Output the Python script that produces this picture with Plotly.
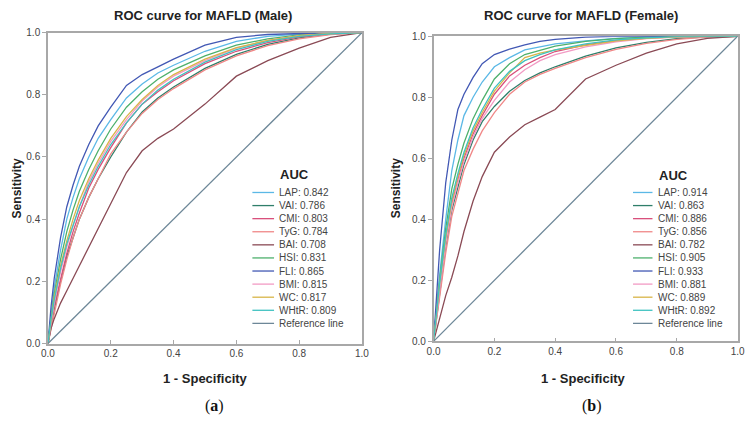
import plotly.graph_objects as go

# ---------------- data ----------------
fpr = [0, 0.01, 0.02, 0.04, 0.06, 0.08, 0.10, 0.13, 0.16, 0.20, 0.25, 0.30, 0.35, 0.40, 0.50, 0.60, 0.70, 0.80, 0.90, 1.00]

indices = ["LAP", "VAI", "CMI", "TyG", "BAI", "HSI", "FLI", "BMI", "WC", "WHtR"]
auc_male = [0.842, 0.786, 0.803, 0.784, 0.708, 0.831, 0.865, 0.815, 0.817, 0.809]
auc_female = [0.914, 0.863, 0.886, 0.856, 0.782, 0.905, 0.933, 0.881, 0.889, 0.892]

male_tpr = {
    "LAP":  [0, 0.10, 0.18, 0.30, 0.40, 0.47, 0.53, 0.60, 0.66, 0.72, 0.79, 0.835, 0.87, 0.895, 0.94, 0.972, 0.988, 0.995, 0.999, 1],
    "VAI":  [0, 0.06, 0.11, 0.20, 0.28, 0.34, 0.40, 0.47, 0.53, 0.60, 0.68, 0.745, 0.79, 0.825, 0.885, 0.93, 0.962, 0.983, 0.995, 1],
    "CMI":  [0, 0.07, 0.12, 0.21, 0.29, 0.36, 0.42, 0.50, 0.56, 0.63, 0.71, 0.77, 0.81, 0.845, 0.90, 0.94, 0.968, 0.986, 0.996, 1],
    "TyG":  [0, 0.05, 0.10, 0.19, 0.27, 0.34, 0.40, 0.47, 0.53, 0.61, 0.68, 0.74, 0.785, 0.82, 0.88, 0.925, 0.958, 0.98, 0.994, 1],
    "BAI":  [0, 0.05, 0.08, 0.13, 0.17, 0.21, 0.25, 0.31, 0.37, 0.45, 0.55, 0.62, 0.66, 0.69, 0.77, 0.86, 0.91, 0.95, 0.985, 1],
    "HSI":  [0, 0.09, 0.16, 0.27, 0.36, 0.43, 0.49, 0.56, 0.62, 0.69, 0.76, 0.81, 0.85, 0.88, 0.925, 0.96, 0.98, 0.993, 0.998, 1],
    "FLI":  [0, 0.12, 0.21, 0.34, 0.44, 0.51, 0.57, 0.64, 0.70, 0.76, 0.83, 0.865, 0.89, 0.915, 0.96, 0.985, 0.994, 0.998, 1, 1],
    "BMI":  [0, 0.07, 0.13, 0.23, 0.31, 0.38, 0.44, 0.52, 0.58, 0.65, 0.72, 0.78, 0.825, 0.86, 0.91, 0.95, 0.975, 0.99, 0.997, 1],
    "WC":   [0, 0.08, 0.15, 0.25, 0.33, 0.40, 0.46, 0.53, 0.59, 0.66, 0.73, 0.785, 0.83, 0.865, 0.915, 0.952, 0.975, 0.99, 0.997, 1],
    "WHtR": [0, 0.08, 0.14, 0.24, 0.32, 0.38, 0.44, 0.51, 0.57, 0.64, 0.71, 0.77, 0.815, 0.85, 0.905, 0.945, 0.972, 0.988, 0.996, 1],
}

female_tpr = {
    "LAP":  [0, 0.12, 0.22, 0.40, 0.56, 0.66, 0.74, 0.80, 0.85, 0.90, 0.93, 0.955, 0.966, 0.975, 0.985, 0.993, 0.997, 0.999, 1, 1],
    "VAI":  [0, 0.08, 0.16, 0.31, 0.43, 0.51, 0.58, 0.66, 0.72, 0.77, 0.82, 0.855, 0.88, 0.90, 0.935, 0.962, 0.98, 0.992, 0.998, 1],
    "CMI":  [0, 0.09, 0.18, 0.33, 0.45, 0.53, 0.60, 0.68, 0.74, 0.81, 0.87, 0.905, 0.93, 0.95, 0.972, 0.986, 0.994, 0.998, 1, 1],
    "TyG":  [0, 0.07, 0.14, 0.29, 0.41, 0.49, 0.56, 0.63, 0.69, 0.75, 0.81, 0.85, 0.875, 0.895, 0.93, 0.957, 0.977, 0.99, 0.997, 1],
    "BAI":  [0, 0.04, 0.08, 0.15, 0.21, 0.28, 0.36, 0.46, 0.54, 0.62, 0.67, 0.71, 0.735, 0.76, 0.86, 0.905, 0.945, 0.975, 0.993, 1],
    "HSI":  [0, 0.11, 0.20, 0.37, 0.50, 0.58, 0.65, 0.73, 0.79, 0.86, 0.91, 0.94, 0.955, 0.968, 0.983, 0.992, 0.997, 1, 1, 1],
    "FLI":  [0, 0.16, 0.30, 0.52, 0.66, 0.76, 0.81, 0.865, 0.91, 0.94, 0.958, 0.972, 0.983, 0.99, 0.997, 1, 1, 1, 1, 1],
    "BMI":  [0, 0.09, 0.17, 0.32, 0.44, 0.52, 0.59, 0.67, 0.73, 0.79, 0.85, 0.89, 0.92, 0.94, 0.965, 0.982, 0.992, 0.997, 1, 1],
    "WC":   [0, 0.10, 0.19, 0.34, 0.46, 0.54, 0.61, 0.69, 0.75, 0.82, 0.88, 0.93, 0.945, 0.955, 0.97, 0.985, 0.993, 0.998, 1, 1],
    "WHtR": [0, 0.10, 0.19, 0.35, 0.47, 0.55, 0.62, 0.70, 0.76, 0.83, 0.885, 0.92, 0.94, 0.955, 0.975, 0.988, 0.995, 0.999, 1, 1],
}

ref_line = [0, 1]
tick_vals = [0, 0.2, 0.4, 0.6, 0.8, 1.0]
tick_text = ["0.0", "0.2", "0.4", "0.6", "0.8", "1.0"]

colors = {
    "LAP": "#5bb8e6", "VAI": "#2f7f6a", "CMI": "#d9507c", "TyG": "#f08888",
    "BAI": "#8a4a55", "HSI": "#4db06c", "FLI": "#4258b4", "BMI": "#f29bc4",
    "WC": "#d8b548", "WHtR": "#3fc2c0",
}
ref_color = "#6d8798"

FONT = "Liberation Sans, Arial, sans-serif"

fig = go.Figure()

panels = [
    ("x", "y", male_tpr, auc_male),
    ("x2", "y2", female_tpr, auc_female),
]

for xa, ya, tprs, aucs in panels:
    for name in indices:
        fig.add_trace(go.Scatter(x=fpr, y=tprs[name], mode="lines", xaxis=xa, yaxis=ya,
                                 line=dict(color=colors[name], width=1.3), showlegend=False,
                                 hoverinfo="skip"))
    fig.add_trace(go.Scatter(x=ref_line, y=ref_line, mode="lines", xaxis=xa, yaxis=ya,
                             line=dict(color=ref_color, width=1.3), showlegend=False,
                             hoverinfo="skip"))

axis_common = dict(range=[0, 1], tickvals=tick_vals, ticktext=tick_text,
                   showgrid=False, zeroline=False, showline=True, linecolor="#a8a8a8",
                   linewidth=1.5, mirror=True, ticklen=4, tickcolor="#a8a8a8",
                   tickfont=dict(family=FONT, size=10, color="#444"))

fig.update_layout(
    width=752, height=424,
    margin=dict(l=0, r=0, t=0, b=0),
    paper_bgcolor="white", plot_bgcolor="white",
    xaxis=dict(domain=[0.0555, 0.481], anchor="y", ticks="inside", **axis_common),
    yaxis=dict(domain=[0.1823, 0.9333], anchor="x", ticks="outside", **axis_common),
    xaxis2=dict(domain=[0.578, 0.990], anchor="y2", ticks="inside", **axis_common),
    yaxis2=dict(domain=[0.1875, 0.9245], anchor="x2", ticks="outside", **axis_common),
)

annotations = []
shapes = []

def paper_y(py):
    return 1 - py / 424

def paper_x(px):
    return px / 752

# titles and axis titles
for cx, title, label, sens_x in [(200, "ROC curve for MAFLD (Male)", "a", 10),
                                 (585, "ROC curve for MAFLD (Female)", "b", 396)]:
    annotations.append(dict(x=paper_x(cx), y=paper_y(11), xref="paper", yref="paper",
                            text="<b>" + title + "</b>", showarrow=False,
                            font=dict(family=FONT, size=13, color="#222"),
                            xanchor="center", yanchor="middle"))
    annotations.append(dict(x=paper_x(cx + 2), y=paper_y(383), xref="paper", yref="paper",
                            text="<b>1 - Specificity</b>", showarrow=False,
                            font=dict(family=FONT, size=13, color="#222"),
                            xanchor="center", yanchor="middle"))
    annotations.append(dict(x=paper_x(cx + 11), y=paper_y(411), xref="paper", yref="paper",
                            text="(<b>" + label + "</b>)", showarrow=False,
                            font=dict(family="Liberation Serif, Times New Roman, serif", size=16, color="#111"),
                            xanchor="center", yanchor="middle"))
    annotations.append(dict(x=paper_x(sens_x), y=paper_y(188), xref="paper", yref="paper",
                            text="<b>Sensitivity</b>", showarrow=False, textangle=-90,
                            font=dict(family=FONT, size=12, color="#222"),
                            xanchor="center", yanchor="middle"))

# legends (drawn inside each panel)
legend_specs = [("x", "y", auc_male, 0.651, 0.72, 0.729, 0.4858, 0.0421, 0.545),
                ("x2", "y2", auc_female, 0.656, 0.72, 0.730, 0.4880, 0.0429, 0.545)]
for xa, ya, aucs, lx0, lx1, tx, y0, dy, hy in legend_specs:
    xr = xa + " domain"
    yr = ya + " domain"
    annotations.append(dict(x=tx + 0.005, y=hy, xref=xr, yref=yr, text="<b>AUC</b>",
                            showarrow=False, xanchor="left", yanchor="middle",
                            font=dict(family=FONT, size=13, color="#222")))
    entries = [(n, colors[n], f"{n}: {a:.3f}") for n, a in zip(indices, aucs)]
    entries.append(("ref", ref_color, "Reference line"))
    for i, (n, c, txt) in enumerate(entries):
        yy = y0 - i * dy
        shapes.append(dict(type="line", xref=xr, yref=yr, x0=lx0, x1=lx1, y0=yy, y1=yy,
                           line=dict(color=c, width=1.3)))
        annotations.append(dict(x=tx, y=yy, xref=xr, yref=yr, text=txt, showarrow=False,
                                xanchor="left", yanchor="middle",
                                font=dict(family=FONT, size=10, color="#444")))

fig.update_layout(annotations=annotations, shapes=shapes)

fig.write_html("out.html", config={"displayModeBar": False},
               post_script="document.body.style.margin='0';document.body.style.overflow='hidden';")
